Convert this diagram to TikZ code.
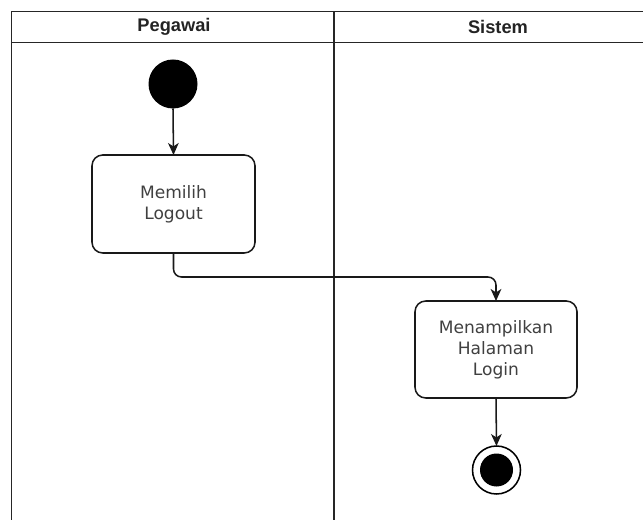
\documentclass[tikz,border=0pt]{standalone}
\usepackage{fontspec}
\setmainfont{DejaVu Sans}
\newfontfamily\headfont{Liberation Sans}
\usetikzlibrary{arrows.meta}
\definecolor{labeltext}{RGB}{64,64,64}
\definecolor{headtext}{RGB}{35,35,35}
\tikzset{
  lane/.style={line width=1.4pt, draw=black!85},
  action/.style={draw=black!90, line width=1.15pt, rounded corners=8pt, fill=white},
  acttext/.style={text=labeltext, align=center, font=\fontsize{12.8pt}{15.6pt}\selectfont},
  headlabel/.style={text=headtext, font=\headfont\bfseries\fontsize{13.7pt}{16pt}\selectfont},
  flow/.style={draw=black!90, line width=1.15pt, rounded corners=6pt,
    -{Stealth[length=9pt, width=8pt, inset=2.6pt]}},
}
\begin{document}
\begin{tikzpicture}[x=0.75pt, y=-0.75pt]
  \useasboundingbox (0,0) rectangle (643,520);
  % swimlane frame
  \draw[lane] (643,11.5) -- (11.5,11.5) -- (11.5,520);
  \draw[lane] (11.5,42.5) -- (643,42.5);
  \draw[lane] (334,11.5) -- (334,520);
  \node[headlabel] (lanePegawai) at (174,27) {Pegawai};
  \node[headlabel] (laneSistem) at (498,27) {Sistem};

  % initial node
  \fill[black] (173,84) circle (24.5) coordinate (startc);
  \coordinate (startbot) at (173,108.5);

  % actions
  \draw[action] (92,155) rectangle (255,253);
  \coordinate (a1top) at (173.5,155);
  \coordinate (a1bot) at (173.5,253);
  \node[acttext] (a1) at (173.5,204) {Memilih\\Logout};

  \draw[action] (415,301) rectangle (577,398);
  \coordinate (a2top) at (496,301);
  \coordinate (a2bot) at (496,398);
  \node[acttext] (a2) at (496,350) {Menampilkan\\Halaman\\Login};

  % final node
  \draw[black, line width=1.15pt, fill=white] (496.5,470) circle (24);
  \fill[black] (496.5,470) circle (16.5);
  \coordinate (endtop) at (496.5,446);

  % control flow
  \draw[flow] (startbot) -- (a1top);
  \draw[flow] (a1bot) -- (173.5,277) -- (496,277) -- (a2top);
  \draw[flow] (a2bot) -- (endtop);
\end{tikzpicture}
\end{document}
